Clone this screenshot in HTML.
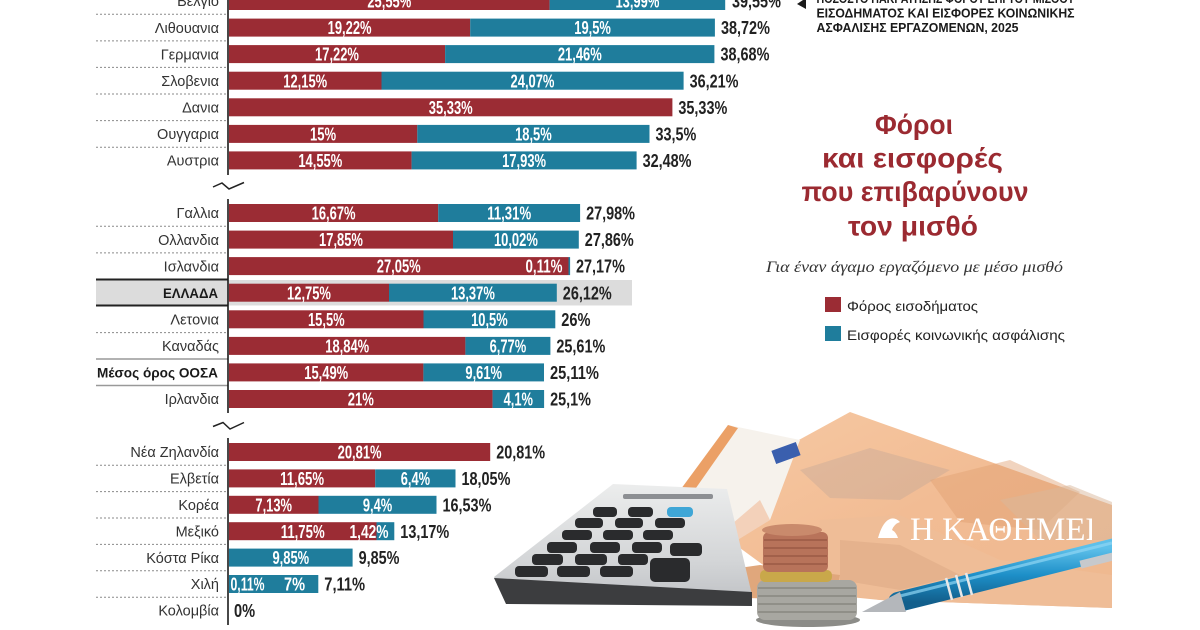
<!DOCTYPE html>
<html><head><meta charset="utf-8">
<style>
html,body{margin:0;padding:0;background:#fff;}
svg{display:block;}
.lab{font-family:"Liberation Sans",sans-serif;font-size:14.5px;fill:#333;text-anchor:end;}
.labb{font-family:"Liberation Sans",sans-serif;font-size:14px;font-weight:bold;fill:#1a1a1a;text-anchor:end;}
.in{font-family:"Liberation Sans",sans-serif;font-size:18.5px;font-weight:bold;fill:#fff;text-anchor:middle;}
.ins{font-family:"Liberation Sans",sans-serif;font-size:18.5px;font-weight:bold;fill:#fff;}
.tot{font-family:"Liberation Sans",sans-serif;font-size:18.5px;font-weight:bold;fill:#222;}
.r{fill:#9b2c34;}
.b{fill:#1f7d9c;}
.dot{stroke:#8a8a8a;stroke-width:1;stroke-dasharray:2,2;}
.ax{stroke:#1a1a1a;stroke-width:1.6;}
.hd{font-family:"Liberation Sans",sans-serif;font-size:12.5px;font-weight:bold;fill:#1a1a1a;}
.tt{font-family:"Liberation Sans",sans-serif;font-size:28px;font-weight:bold;fill:#9b2a31;text-anchor:middle;}
.lg{font-family:"Liberation Sans",sans-serif;font-size:14px;fill:#222;}
</style></head>
<body>
<svg width="1200" height="630" viewBox="0 0 1200 630" xmlns="http://www.w3.org/2000/svg">
<rect width="1200" height="630" fill="#fff"/>

<!-- Greece highlight -->
<rect x="96" y="280" width="536" height="25.5" fill="#dcdcdc"/>
<line x1="96" y1="279.5" x2="228" y2="279.5" stroke="#222" stroke-width="2"/>
<line x1="96" y1="305.5" x2="228" y2="305.5" stroke="#222" stroke-width="2"/>
<line x1="96" y1="359" x2="228" y2="359" stroke="#999" stroke-width="1.5"/>
<line x1="96" y1="385.5" x2="228" y2="385.5" stroke="#999" stroke-width="1.5"/>

<!-- dotted separators -->
<g class="dot">
<line x1="96" y1="14.3" x2="227" y2="14.3"/>
<line x1="96" y1="40.9" x2="227" y2="40.9"/>
<line x1="96" y1="67.4" x2="227" y2="67.4"/>
<line x1="96" y1="94" x2="227" y2="94"/>
<line x1="96" y1="120.6" x2="227" y2="120.6"/>
<line x1="96" y1="147.2" x2="227" y2="147.2"/>
<line x1="96" y1="226.3" x2="227" y2="226.3"/>
<line x1="96" y1="252.9" x2="227" y2="252.9"/>
<line x1="96" y1="332.6" x2="227" y2="332.6"/>
<line x1="96" y1="465.2" x2="227" y2="465.2"/>
<line x1="96" y1="491.6" x2="227" y2="491.6"/>
<line x1="96" y1="518" x2="227" y2="518"/>
<line x1="96" y1="544.4" x2="227" y2="544.4"/>
<line x1="96" y1="570.8" x2="227" y2="570.8"/>
<line x1="96" y1="597.2" x2="227" y2="597.2"/>
</g>

<!-- axes -->
<line class="ax" x1="228" y1="-10" x2="228" y2="175"/>
<line class="ax" x1="228" y1="199" x2="228" y2="413"/>
<line class="ax" x1="228" y1="438" x2="228" y2="625"/>
<path d="M213,187 L222,183 L229,189 L244,182.5" fill="none" stroke="#222" stroke-width="1.5"/>
<path d="M213,426.5 L223,422.5 L230,429 L244,422.5" fill="none" stroke="#222" stroke-width="1.5"/>

<!-- labels -->
<text class="lab" x="219" y="6.2">Βέλγιο</text>
<text class="lab" x="219" y="32.8">Λιθουανια</text>
<text class="lab" x="219" y="59.3">Γερμανια</text>
<text class="lab" x="219" y="85.9">Σλοβενια</text>
<text class="lab" x="219" y="112.5">Δανια</text>
<text class="lab" x="219" y="139.1">Ουγγαρια</text>
<text class="lab" x="219" y="165.6">Αυστρια</text>

<text class="lab" x="219" y="218.2">Γαλλια</text>
<text class="lab" x="219" y="244.8">Ολλανδια</text>
<text class="lab" x="219" y="271.3">Ισλανδια</text>
<text class="labb" x="218" y="297.9" textLength="55" lengthAdjust="spacingAndGlyphs">ΕΛΛΑΔΑ</text>
<text class="lab" x="219" y="324.5">Λετονια</text>
<text class="lab" x="219" y="351.1">Καναδάς</text>
<text class="labb" x="218" y="377.6" textLength="121" lengthAdjust="spacingAndGlyphs">Μέσος όρος ΟΟΣΑ</text>
<text class="lab" x="219" y="404.2">Ιρλανδια</text>

<text class="lab" x="219" y="457.2">Νέα Ζηλανδία</text>
<text class="lab" x="219" y="483.6">Ελβετία</text>
<text class="lab" x="219" y="510">Κορέα</text>
<text class="lab" x="219" y="536.4">Μεξικό</text>
<text class="lab" x="219" y="562.8">Κόστα Ρίκα</text>
<text class="lab" x="219" y="589.2">Χιλή</text>
<text class="lab" x="219" y="615.6">Κολομβία</text>

<!-- Group 1 bars -->
<rect class="r" x="229" y="-8" width="320.6" height="18"/><rect class="b" x="549.6" y="-8" width="175.6" height="18"/>
<rect class="r" x="229" y="18.6" width="241.2" height="18"/><rect class="b" x="470.2" y="18.6" width="244.7" height="18"/>
<rect class="r" x="229" y="45.1" width="216.1" height="18"/><rect class="b" x="445.1" y="45.1" width="269.3" height="18"/>
<rect class="r" x="229" y="71.7" width="152.5" height="18"/><rect class="b" x="381.5" y="71.7" width="302.1" height="18"/>
<rect class="r" x="229" y="98.3" width="443.4" height="18"/>
<rect class="r" x="229" y="124.9" width="188.3" height="18"/><rect class="b" x="417.3" y="124.9" width="232.2" height="18"/>
<rect class="r" x="229" y="151.4" width="182.6" height="18"/><rect class="b" x="411.6" y="151.4" width="225" height="18"/>

<!-- Group 2 bars -->
<rect class="r" x="229" y="204" width="209.2" height="18"/><rect class="b" x="438.2" y="204" width="141.9" height="18"/>
<rect class="r" x="229" y="230.6" width="224" height="18"/><rect class="b" x="453" y="230.6" width="125.8" height="18"/>
<rect class="r" x="229" y="257.1" width="339.5" height="18"/><rect class="b" x="568.5" y="257.1" width="1.6" height="18"/>
<rect class="r" x="229" y="283.7" width="160" height="18"/><rect class="b" x="389" y="283.7" width="167.8" height="18"/>
<rect class="r" x="229" y="310.3" width="194.5" height="18"/><rect class="b" x="423.5" y="310.3" width="131.8" height="18"/>
<rect class="r" x="229" y="336.9" width="236.4" height="18"/><rect class="b" x="465.4" y="336.9" width="85" height="18"/>
<rect class="r" x="229" y="363.4" width="194.4" height="18"/><rect class="b" x="423.4" y="363.4" width="120.6" height="18"/>
<rect class="r" x="229" y="390" width="263.6" height="18"/><rect class="b" x="492.6" y="390" width="51.5" height="18"/>

<!-- Group 3 bars -->
<rect class="r" x="229" y="443" width="261.2" height="18"/>
<rect class="r" x="229" y="469.4" width="146.2" height="18"/><rect class="b" x="375.2" y="469.4" width="80.3" height="18"/>
<rect class="r" x="229" y="495.8" width="89.5" height="18"/><rect class="b" x="318.5" y="495.8" width="118" height="18"/>
<rect class="r" x="229" y="522.2" width="147.5" height="18"/><rect class="b" x="376.5" y="522.2" width="17.8" height="18"/>
<rect class="b" x="229" y="548.6" width="123.6" height="18"/>
<rect class="b" x="229" y="575" width="89.3" height="18"/>

<!-- inner labels -->
<g>
<text class="in" x="389.3" y="7.6" textLength="43.9" lengthAdjust="spacingAndGlyphs">25,55%</text>
<text class="in" x="637.4" y="7.6" textLength="43.9" lengthAdjust="spacingAndGlyphs">13,99%</text>
<text class="in" x="349.6" y="34.2" textLength="43.9" lengthAdjust="spacingAndGlyphs">19,22%</text>
<text class="in" x="592.6" y="34.2" textLength="36.6" lengthAdjust="spacingAndGlyphs">19,5%</text>
<text class="in" x="337" y="60.7" textLength="43.9" lengthAdjust="spacingAndGlyphs">17,22%</text>
<text class="in" x="579.8" y="60.7" textLength="43.9" lengthAdjust="spacingAndGlyphs">21,46%</text>
<text class="in" x="305.2" y="87.3" textLength="43.9" lengthAdjust="spacingAndGlyphs">12,15%</text>
<text class="in" x="532.5" y="87.3" textLength="43.9" lengthAdjust="spacingAndGlyphs">24,07%</text>
<text class="in" x="450.7" y="113.9" textLength="43.9" lengthAdjust="spacingAndGlyphs">35,33%</text>
<text class="in" x="323.1" y="140.5" textLength="26.1" lengthAdjust="spacingAndGlyphs">15%</text>
<text class="in" x="533.4" y="140.5" textLength="36.6" lengthAdjust="spacingAndGlyphs">18,5%</text>
<text class="in" x="320.3" y="167" textLength="43.9" lengthAdjust="spacingAndGlyphs">14,55%</text>
<text class="in" x="524.1" y="167" textLength="43.9" lengthAdjust="spacingAndGlyphs">17,93%</text>

<text class="in" x="333.6" y="219.6" textLength="43.9" lengthAdjust="spacingAndGlyphs">16,67%</text>
<text class="in" x="509.2" y="219.6" textLength="43.9" lengthAdjust="spacingAndGlyphs">11,31%</text>
<text class="in" x="341" y="246.2" textLength="43.9" lengthAdjust="spacingAndGlyphs">17,85%</text>
<text class="in" x="515.9" y="246.2" textLength="43.9" lengthAdjust="spacingAndGlyphs">10,02%</text>
<text class="in" x="398.7" y="272.7" textLength="43.9" lengthAdjust="spacingAndGlyphs">27,05%</text>
<text class="ins" x="525.5" y="272.7" textLength="37" lengthAdjust="spacingAndGlyphs">0,11%</text>
<text class="in" x="309" y="299.3" textLength="43.9" lengthAdjust="spacingAndGlyphs">12,75%</text>
<text class="in" x="472.9" y="299.3" textLength="43.9" lengthAdjust="spacingAndGlyphs">13,37%</text>
<text class="in" x="326.3" y="325.9" textLength="36.6" lengthAdjust="spacingAndGlyphs">15,5%</text>
<text class="in" x="489.4" y="325.9" textLength="36.6" lengthAdjust="spacingAndGlyphs">10,5%</text>
<text class="in" x="347.2" y="352.5" textLength="43.9" lengthAdjust="spacingAndGlyphs">18,84%</text>
<text class="in" x="507.9" y="352.5" textLength="36.6" lengthAdjust="spacingAndGlyphs">6,77%</text>
<text class="in" x="326.2" y="379" textLength="43.9" lengthAdjust="spacingAndGlyphs">15,49%</text>
<text class="in" x="483.7" y="379" textLength="36.6" lengthAdjust="spacingAndGlyphs">9,61%</text>
<text class="in" x="360.8" y="405.6" textLength="26.1" lengthAdjust="spacingAndGlyphs">21%</text>
<text class="in" x="518.3" y="405.6" textLength="29.3" lengthAdjust="spacingAndGlyphs">4,1%</text>

<text class="in" x="359.6" y="458.6" textLength="43.9" lengthAdjust="spacingAndGlyphs">20,81%</text>
<text class="in" x="302.1" y="485" textLength="43.9" lengthAdjust="spacingAndGlyphs">11,65%</text>
<text class="in" x="415.4" y="485" textLength="29.3" lengthAdjust="spacingAndGlyphs">6,4%</text>
<text class="in" x="273.7" y="511.4" textLength="36.6" lengthAdjust="spacingAndGlyphs">7,13%</text>
<text class="in" x="377.5" y="511.4" textLength="29.3" lengthAdjust="spacingAndGlyphs">9,4%</text>
<text class="in" x="302.7" y="537.8" textLength="43.9" lengthAdjust="spacingAndGlyphs">11,75%</text>
<text class="ins" x="349.5" y="537.8" textLength="39" lengthAdjust="spacingAndGlyphs">1,42%</text>
<text class="in" x="290.8" y="564.2" textLength="36.6" lengthAdjust="spacingAndGlyphs">9,85%</text>
<text class="ins" x="230.5" y="590.6" textLength="34" lengthAdjust="spacingAndGlyphs">0,11%</text>
<text class="in" x="294.5" y="590.6" textLength="21" lengthAdjust="spacingAndGlyphs">7%</text>
</g>

<!-- totals -->
<g>
<text class="tot" x="732" y="7.6" textLength="48.9" lengthAdjust="spacingAndGlyphs">39,55%</text>
<text class="tot" x="721" y="34.2" textLength="48.9" lengthAdjust="spacingAndGlyphs">38,72%</text>
<text class="tot" x="720.5" y="60.7" textLength="48.9" lengthAdjust="spacingAndGlyphs">38,68%</text>
<text class="tot" x="689.6" y="87.3" textLength="48.9" lengthAdjust="spacingAndGlyphs">36,21%</text>
<text class="tot" x="678.4" y="113.9" textLength="48.9" lengthAdjust="spacingAndGlyphs">35,33%</text>
<text class="tot" x="655.5" y="140.5" textLength="40.8" lengthAdjust="spacingAndGlyphs">33,5%</text>
<text class="tot" x="642.6" y="167" textLength="48.9" lengthAdjust="spacingAndGlyphs">32,48%</text>

<text class="tot" x="586.1" y="219.6" textLength="48.9" lengthAdjust="spacingAndGlyphs">27,98%</text>
<text class="tot" x="584.8" y="246.2" textLength="48.9" lengthAdjust="spacingAndGlyphs">27,86%</text>
<text class="tot" x="576" y="272.7" textLength="48.9" lengthAdjust="spacingAndGlyphs">27,17%</text>
<text class="tot" x="562.8" y="299.3" textLength="48.9" lengthAdjust="spacingAndGlyphs">26,12%</text>
<text class="tot" x="561.3" y="325.9" textLength="29.2" lengthAdjust="spacingAndGlyphs">26%</text>
<text class="tot" x="556.4" y="352.5" textLength="48.9" lengthAdjust="spacingAndGlyphs">25,61%</text>
<text class="tot" x="550" y="379" textLength="48.9" lengthAdjust="spacingAndGlyphs">25,11%</text>
<text class="tot" x="550.1" y="405.6" textLength="40.8" lengthAdjust="spacingAndGlyphs">25,1%</text>

<text class="tot" x="496.2" y="458.6" textLength="48.9" lengthAdjust="spacingAndGlyphs">20,81%</text>
<text class="tot" x="461.5" y="485" textLength="48.9" lengthAdjust="spacingAndGlyphs">18,05%</text>
<text class="tot" x="442.5" y="511.4" textLength="48.9" lengthAdjust="spacingAndGlyphs">16,53%</text>
<text class="tot" x="400.3" y="537.8" textLength="48.9" lengthAdjust="spacingAndGlyphs">13,17%</text>
<text class="tot" x="358.6" y="564.2" textLength="40.8" lengthAdjust="spacingAndGlyphs">9,85%</text>
<text class="tot" x="324.3" y="590.6" textLength="40.8" lengthAdjust="spacingAndGlyphs">7,11%</text>
<text class="tot" x="234" y="617" textLength="21.1" lengthAdjust="spacingAndGlyphs">0%</text>
</g>

<!-- header top right -->
<polygon points="797,4 806,-2 806,9" fill="#1a1a1a"/>
<text class="hd" x="816.5" y="3" textLength="258" lengthAdjust="spacingAndGlyphs">ΠΟΣΟΣΤΟ ΠΑΚΡΑΤΗΣΗΣ ΦΟΡΟΥ ΕΠΙ ΤΟΥ ΜΙΣΘΟΥ</text>
<text class="hd" x="816.5" y="17.5" textLength="258" lengthAdjust="spacingAndGlyphs">ΕΙΣΟΔΗΜΑΤΟΣ ΚΑΙ ΕΙΣΦΟΡΕΣ ΚΟΙΝΩΝΙΚΗΣ</text>
<text class="hd" x="816.5" y="32" textLength="202" lengthAdjust="spacingAndGlyphs">ΑΣΦΑΛΙΣΗΣ ΕΡΓΑΖΟΜΕΝΩΝ, 2025</text>

<!-- title -->
<text class="tt" x="914" y="134" textLength="78" lengthAdjust="spacingAndGlyphs">Φόροι</text>
<text class="tt" x="912.5" y="167.5" textLength="181" lengthAdjust="spacingAndGlyphs">και εισφορές</text>
<text class="tt" x="915" y="201" textLength="227" lengthAdjust="spacingAndGlyphs">που επιβαρύνουν</text>
<text class="tt" x="913" y="235.5" textLength="130" lengthAdjust="spacingAndGlyphs">τον μισθό</text>
<text x="766" y="272" font-family="Liberation Serif, serif" font-style="italic" font-size="16" fill="#333" textLength="297" lengthAdjust="spacingAndGlyphs">Για έναν άγαμο εργαζόμενο με μέσο μισθό</text>

<!-- legend -->
<rect x="825" y="297" width="16" height="15" fill="#9b2c34"/>
<text class="lg" x="847" y="311" textLength="131" lengthAdjust="spacingAndGlyphs">Φόρος εισοδήματος</text>
<rect x="825" y="326" width="16" height="15" fill="#1f7d9c"/>
<text class="lg" x="847" y="340" textLength="218" lengthAdjust="spacingAndGlyphs">Εισφορές κοινωνικής ασφάλισης</text>

<!-- photo illustration -->
<defs>
<clipPath id="pc"><rect x="488" y="405" width="624" height="225"/></clipPath>
<clipPath id="wm"><rect x="860" y="500" width="232" height="60"/></clipPath>
<linearGradient id="note" x1="0" y1="0" x2="1" y2="1">
<stop offset="0" stop-color="#f6c9a3"/><stop offset="0.5" stop-color="#f2bc94"/><stop offset="1" stop-color="#eeb88f"/>
</linearGradient>
<linearGradient id="calc" x1="0" y1="0" x2="0" y2="1">
<stop offset="0" stop-color="#eceded"/><stop offset="0.7" stop-color="#d3d5d7"/><stop offset="1" stop-color="#c3c5c8"/>
</linearGradient>
<linearGradient id="pen" x1="0" y1="0" x2="0" y2="1">
<stop offset="0" stop-color="#5ec0ea"/><stop offset="0.5" stop-color="#1d8fc8"/><stop offset="1" stop-color="#125f8c"/>
</linearGradient>
</defs>
<g clip-path="url(#pc)">
<!-- back big note -->
<polygon points="722,482 850,412 1112,505 1112,608 880,600 800,592 740,548" fill="url(#note)"/>
<polygon points="800,470 870,448 950,470 900,500 830,498" fill="#b9a497" opacity="0.35"/>
<polygon points="930,480 1010,460 1080,492 1040,530 960,522" fill="#e0a072" opacity="0.45"/>
<polygon points="1000,500 1070,485 1112,502 1112,540 1040,540" fill="#d9b89b" opacity="0.5"/>
<!-- lower note -->
<polygon points="820,520 900,515 1000,560 1112,575 1112,608 880,600 815,590" fill="#efbd97"/>
<polygon points="840,540 900,545 960,575 900,590 840,580" fill="#dba884" opacity="0.5"/>
<!-- white 50 note -->
<polygon points="645,538 728,425 800,440 770,520 705,560" fill="#f6f2ec"/>
<polygon points="645,538 728,425 738,428 656,545" fill="#eba066"/>
<polygon points="690,560 705,560 770,520 760,500" fill="#f0b088" opacity="0.5"/>
<rect x="773" y="446" width="26" height="14" fill="#3a5fae" transform="rotate(-20 786 453)"/>
<text x="690" y="555" font-family="Liberation Sans, sans-serif" font-size="26" font-weight="bold" fill="#2d7f8f" transform="rotate(-20 700 545)">50</text>
<!-- notes underneath calc -->
<polygon points="690,575 760,565 840,575 835,600 700,597" fill="#e0a77c"/>
<!-- calculator -->
<polygon points="613,484 727,489 752,595 500,591 494,577" fill="url(#calc)"/>
<polygon points="494,578 752,592 752,606 506,604" fill="#3c3d3f"/>
<rect x="623" y="494" width="90" height="5" rx="2" fill="#8d8f93"/>
<g fill="#2a2b2d">
<rect x="593" y="507" width="24" height="10" rx="4"/>
<rect x="628" y="507" width="25" height="10" rx="4"/>
<rect x="575" y="518" width="28" height="10" rx="4"/>
<rect x="615" y="518" width="28" height="10" rx="4"/>
<rect x="655" y="518" width="30" height="10" rx="4"/>
<rect x="562" y="530" width="30" height="10" rx="4"/>
<rect x="603" y="530" width="30" height="10" rx="4"/>
<rect x="643" y="530" width="30" height="10" rx="4"/>
<rect x="670" y="543" width="32" height="13" rx="4"/>
<rect x="547" y="542" width="30" height="11" rx="4"/>
<rect x="590" y="542" width="30" height="11" rx="4"/>
<rect x="632" y="542" width="30" height="11" rx="4"/>
<rect x="532" y="554" width="31" height="11" rx="4"/>
<rect x="575" y="554" width="32" height="11" rx="4"/>
<rect x="618" y="554" width="30" height="11" rx="4"/>
<rect x="650" y="558" width="40" height="24" rx="5"/>
<rect x="515" y="566" width="33" height="11" rx="4"/>
<rect x="557" y="566" width="33" height="11" rx="4"/>
<rect x="600" y="566" width="33" height="11" rx="4"/>
</g>
<rect x="667" y="507" width="26" height="10" rx="4" fill="#3fa6d6"/>
<!-- coins -->
<g>
<ellipse cx="808" cy="620" rx="52" ry="7" fill="#8c8c88"/>
<rect x="757" y="580" width="100" height="40" rx="8" fill="#a8a7a1"/>
<g stroke="#77776f" stroke-width="1">
<line x1="758" y1="588" x2="856" y2="588"/><line x1="758" y1="596" x2="856" y2="596"/>
<line x1="758" y1="604" x2="856" y2="604"/><line x1="758" y1="612" x2="856" y2="612"/>
</g>
<rect x="760" y="570" width="72" height="12" rx="5" fill="#c9a84a"/>
<rect x="763" y="532" width="65" height="40" rx="6" fill="#b8735a"/>
<g stroke="#8d4e3a" stroke-width="1">
<line x1="764" y1="540" x2="827" y2="540"/><line x1="764" y1="548" x2="827" y2="548"/>
<line x1="764" y1="556" x2="827" y2="556"/><line x1="764" y1="564" x2="827" y2="564"/>
</g>
<ellipse cx="792" cy="530" rx="30" ry="6" fill="#c98a6c"/>
</g>
<!-- pen -->
<line x1="898" y1="602" x2="1115" y2="548" stroke="url(#pen)" stroke-width="20" stroke-linecap="round"/>
<line x1="900" y1="596" x2="1112" y2="543" stroke="#8fd6f4" stroke-width="3" opacity="0.7"/>
<polygon points="862,612 900,592 906,612" fill="#b4b7bb"/>
<line x1="952" y1="600" x2="946" y2="578" stroke="#e8e8e8" stroke-width="2.5"/>
<line x1="962" y1="597" x2="956" y2="575" stroke="#e8e8e8" stroke-width="2.5"/>
<line x1="972" y1="595" x2="966" y2="573" stroke="#e8e8e8" stroke-width="2.5"/>
<rect x="1080" y="557" width="34" height="8" fill="#c7c9cc" transform="rotate(-14 1095 561)"/>
<!-- watermark -->
<g clip-path="url(#wm)">
<text x="910" y="540" font-family="Liberation Serif, serif" font-size="33" fill="#fff">Η ΚΑΘΗΜΕΡΙΝΗ</text>
</g>
<path d="M878,538 q4,-14 10,-18 q6,-4 12,2 q-6,2 -8,8 q4,2 6,8 z" fill="#fff"/>
</g>
</svg>
</body></html>
